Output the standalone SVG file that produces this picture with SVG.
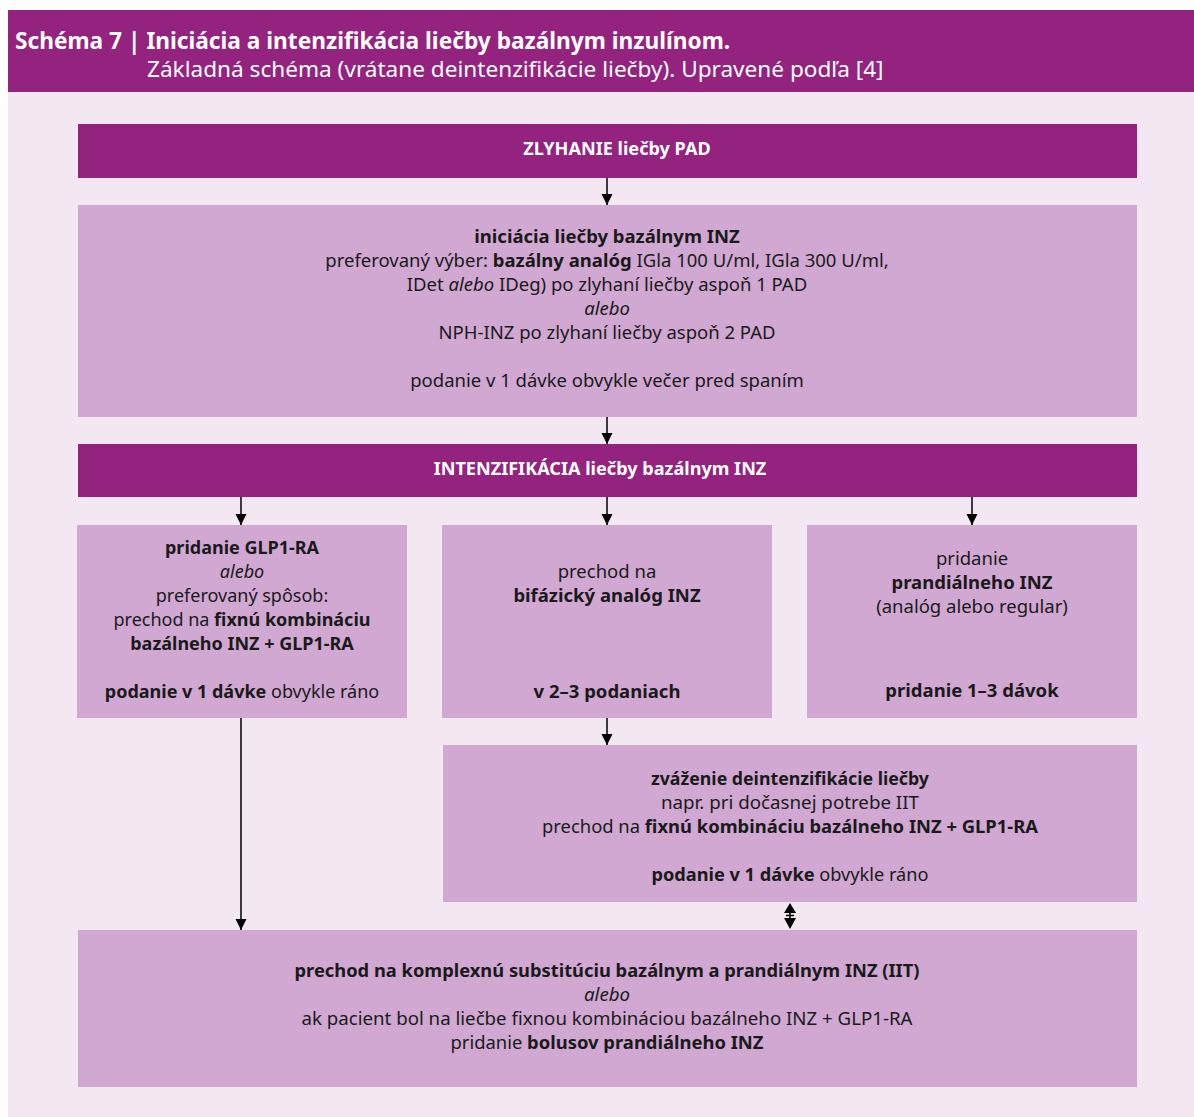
<svg xmlns="http://www.w3.org/2000/svg" width="1194" height="1117" viewBox="0 0 1194 1117">
<defs>
<marker id="ah" viewBox="0 0 10 10" refX="10" refY="5" markerWidth="11" markerHeight="12" markerUnits="userSpaceOnUse" orient="auto-start-reverse"><path d="M0,0 L10,5 L0,10 z" fill="#000"/></marker>
<style>
text{font-family:"Noto Sans","Open Sans","DejaVu Sans",sans-serif;fill:#1a1a1a;text-anchor:middle;font-size:18.5px}
.b{font-weight:bold}
.i{font-style:italic}
.dark{fill:#94227f}
.light{fill:#d0a8d2}
.wt{fill:#fff;font-weight:bold;font-size:18.1px}
.c line{stroke:#000;stroke-width:1.5;marker-end:url(#ah)}
.sm{font-size:18px}
</style>
</defs>
<rect x="8" y="92" width="1186" height="1025" fill="#f3e7f2"/>
<g id="header">
<rect x="8" y="10" width="1186" height="82" class="dark"/>
<text x="15" y="49" style="text-anchor:start;fill:#fff;font-weight:bold;font-size:22.7px">Schéma 7 | Iniciácia a intenzifikácia liečby bazálnym inzulínom.</text>
<text x="147" y="77" style="text-anchor:start;fill:#fff;font-size:22.6px">Základná schéma (vrátane deintenzifikácie liečby). Upravené podľa [4]</text>
</g>
<g id="n1">
<rect x="78" y="124" width="1059" height="54" class="dark"/>
<text x="617" y="155" class="wt">ZLYHANIE liečby PAD</text>
</g>
<g id="n2">
<rect x="78" y="205" width="1059" height="212" class="light"/>
<text x="607" y="243" class="b">iniciácia liečby bazálnym INZ</text>
<text x="607" y="267">preferovaný výber: <tspan class="b">bazálny analóg</tspan> IGla 100 U/ml, IGla 300 U/ml,</text>
<text x="607" y="291">IDet <tspan class="i">alebo</tspan> IDeg) po zlyhaní liečby aspoň 1 PAD</text>
<text x="607" y="315" class="i">alebo</text>
<text x="607" y="339">NPH-INZ po zlyhaní liečby aspoň 2 PAD</text>
<text x="607" y="387">podanie v 1 dávke obvykle večer pred spaním</text>
</g>
<g id="n3">
<rect x="78" y="444" width="1059" height="53" class="dark"/>
<text x="600" y="475" class="wt">INTENZIFIKÁCIA liečby bazálnym INZ</text>
</g>
<g id="n4" class="sm">
<rect x="77" y="525" width="330" height="193" class="light"/>
<text x="242" y="554" class="b sm">pridanie GLP1-RA</text>
<text x="242" y="578" class="i sm">alebo</text>
<text x="242" y="602" class="sm">preferovaný spôsob:</text>
<text x="242" y="626" class="sm">prechod na <tspan class="b">fixnú kombináciu</tspan></text>
<text x="242" y="650" class="b sm">bazálneho INZ + GLP1-RA</text>
<text x="242" y="698" class="sm"><tspan class="b">podanie v 1 dávke</tspan> obvykle ráno</text>
</g>
<g id="n5">
<rect x="442" y="525" width="330" height="193" class="light"/>
<text x="607" y="578">prechod na</text>
<text x="607" y="602" class="b">bifázický analóg INZ</text>
<text x="607" y="698" class="b">v 2–3 podaniach</text>
</g>
<g id="n6">
<rect x="807" y="525" width="330" height="193" class="light"/>
<text x="972" y="565">pridanie</text>
<text x="972" y="589" class="b">prandiálneho INZ</text>
<text x="972" y="613">(analóg alebo regular)</text>
<text x="972" y="697" class="b">pridanie 1–3 dávok</text>
</g>
<g id="n7">
<rect x="443" y="745" width="694" height="157" class="light"/>
<text x="790" y="785" class="b" textLength="278" lengthAdjust="spacingAndGlyphs">zváženie deintenzifikácie liečby</text>
<text x="790" y="809" textLength="258" lengthAdjust="spacingAndGlyphs">napr. pri dočasnej potrebe IIT</text>
<text x="790" y="833" textLength="496" lengthAdjust="spacingAndGlyphs">prechod na <tspan class="b">fixnú kombináciu bazálneho INZ + GLP1-RA</tspan></text>
<text x="790" y="881" textLength="277" lengthAdjust="spacingAndGlyphs"><tspan class="b">podanie v 1 dávke</tspan> obvykle ráno</text>
</g>
<g id="n8">
<rect x="78" y="930" width="1059" height="157" class="light"/>
<text x="607" y="977" class="b" textLength="625" lengthAdjust="spacingAndGlyphs">prechod na komplexnú substitúciu bazálnym a prandiálnym INZ (IIT)</text>
<text x="607" y="1001" class="i" textLength="46" lengthAdjust="spacingAndGlyphs">alebo</text>
<text x="607" y="1025" textLength="611" lengthAdjust="spacingAndGlyphs">ak pacient bol na liečbe fixnou kombináciou bazálneho INZ + GLP1-RA</text>
<text x="607" y="1049" textLength="313" lengthAdjust="spacingAndGlyphs">pridanie <tspan class="b">bolusov prandiálneho INZ</tspan></text>
</g>
<g id="connectors" class="c">
<line x1="607" y1="178" x2="607" y2="205"/>
<line x1="607" y1="417" x2="607" y2="444"/>
<line x1="241" y1="497" x2="241" y2="525"/>
<line x1="607" y1="497" x2="607" y2="525"/>
<line x1="972" y1="497" x2="972" y2="525"/>
<line x1="607" y1="718" x2="607" y2="745"/>
<line x1="241" y1="718" x2="241" y2="930"/>
<path d="M790,903 L796,913 L784,913 Z M784,918 L796,918 L790,929 Z" fill="#000"/>
<path d="M790,912 V919 M786,915.5 H794" stroke="#000" stroke-width="1.5" fill="none"/>
</g>
</svg>
